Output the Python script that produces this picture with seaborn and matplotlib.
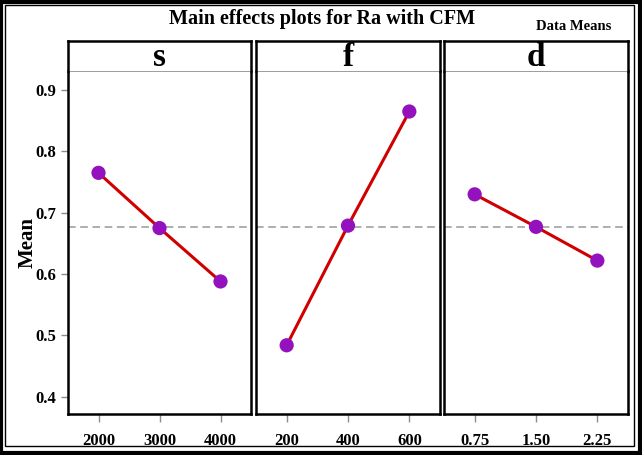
import matplotlib
matplotlib.use("Agg")
import matplotlib.pyplot as plt
import seaborn as sns
from matplotlib.patches import Rectangle

sns.set_style("white")
plt.rcParams['font.family'] = ['Liberation Serif', 'DejaVu Serif']
plt.rcParams['font.weight'] = 'bold'
plt.rcParams['text.color'] = 'black'
plt.rcParams['axes.labelcolor'] = 'black'
plt.rcParams['xtick.color'] = 'black'
plt.rcParams['ytick.color'] = 'black'

factors = ["s", "f", "d"]
s_levels = ["2000", "3000", "4000"]
s_means = [0.765, 0.675, 0.588]
f_levels = ["200", "400", "600"]
f_means = [0.484, 0.679, 0.865]
d_levels = ["0.75", "1.50", "2.25"]
d_means = [0.730, 0.677, 0.622]
grand_mean = 0.676
y_ticks = [0.4, 0.5, 0.6, 0.7, 0.8, 0.9]

levels = [s_levels, f_levels, d_levels]
means = [s_means, f_means, d_means]

W, H = 642, 455
fig = plt.figure(figsize=(W / 100, H / 100), dpi=100)

panels_x = [(68, 251), (256, 440), (444, 628)]
plot_top, plot_bot, strip_top = 71, 414, 41

def fx(px):
    return px / W

def fy(py):
    return 1 - py / H

for i, (x0, x1) in enumerate(panels_x):
    ax = fig.add_axes([fx(x0), fy(plot_bot), fx(x1 - x0), fy(plot_top) - fy(plot_bot)])
    sax = fig.add_axes([fx(x0), fy(plot_top), fx(x1 - x0), fy(strip_top) - fy(plot_top)])
    ax.axhline(grand_mean, color="#999999", ls=(0, (5, 3)), lw=1.1, zorder=1)
    sns.lineplot(x=levels[i], y=means[i], ax=ax, color="#d00000", lw=2.2, sort=False, zorder=2)
    sns.scatterplot(x=levels[i], y=means[i], ax=ax, color="#9412bd", s=105, edgecolor="none", zorder=3)
    ax.set_xlim(-0.5, 2.5)
    ax.set_ylim(0.372, 0.931)
    ax.set_yticks(y_ticks)
    ax.set_xlabel("")
    ax.set_ylabel("")
    for sp in ["left", "right", "bottom"]:
        ax.spines[sp].set_color("black")
        ax.spines[sp].set_linewidth(1.8)
    ax.spines["top"].set_color("#8c8c8c")
    ax.spines["top"].set_linewidth(1.2)
    ax.tick_params(axis="x", direction="out", length=6, color="#8c8c8c", width=1,
                   labelsize=12, pad=8, bottom=True, labelcolor="black")
    if i == 0:
        ax.tick_params(axis="y", direction="out", length=5, color="#8c8c8c", width=1,
                       labelsize=12, left=True, labelcolor="black")
        for lab in ax.get_yticklabels():
            lab.set_fontweight("bold")
    else:
        ax.tick_params(axis="y", left=False, labelleft=False)
    for lab in ax.get_xticklabels():
        lab.set_fontweight("bold")

    sax.set_xticks([])
    sax.set_yticks([])
    for sp in ["left", "right", "top"]:
        sax.spines[sp].set_color("black")
        sax.spines[sp].set_linewidth(1.8)
    sax.spines["bottom"].set_visible(False)
    sax.text(0.5, 0.45, factors[i], ha="center", va="center", fontsize=24,
             fontweight="bold", color="black", transform=sax.transAxes)

ax0 = fig.axes[0]
ax0.set_ylabel("Mean", fontsize=15, fontweight="bold", color="black")
ax0.yaxis.set_label_coords((38 - 68) / 183, 0.5)

fig.text(fx(322), fy(19), "Main effects plots for Ra with CFM", ha="center", va="center",
         fontsize=14.5, fontweight="bold", color="black")
fig.text(fx(574), fy(26), "Data Means", ha="center", va="center", fontsize=10.5,
         fontweight="bold", color="black")

# outer double border
fig.patches.append(Rectangle((fx(1.5), fy(453)), fx(638), fy(1.5) - fy(453),
                             transform=fig.transFigure, fill=False, ec="black", lw=3))
fig.patches.append(Rectangle((fx(5), fy(446)), fx(629), fy(5) - fy(446),
                             transform=fig.transFigure, fill=False, ec="black", lw=1))

fig.savefig("out.png", dpi=100)
